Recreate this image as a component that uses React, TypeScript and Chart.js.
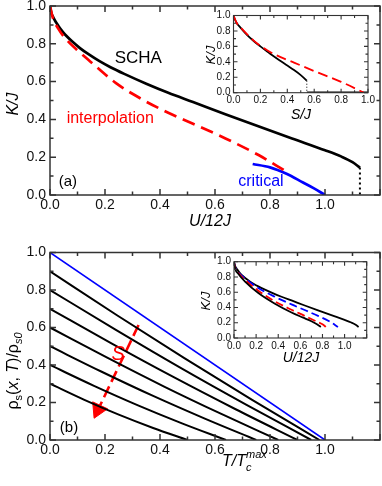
import { useEffect, useRef } from 'react';
import { Chart, registerables } from 'chart.js';
Chart.register(...registerables);

const FONT = '"Liberation Sans", Arial, Helvetica, sans-serif';
const RED = '#ff0000';
const BLUE = '#0000ff';
const BLACK = '#000000';
const FRAME = '#333333';

// ---------- panel (a) main: K/J vs U/12J ----------
const schaU = [0, 0.005, 0.012, 0.02, 0.03, 0.045, 0.06, 0.08, 0.11, 0.14, 0.18, 0.22, 0.27, 0.35, 0.43, 0.52, 0.64, 0.76, 0.88, 1.0, 1.06, 1.1, 1.127];
const schaK = [1.0, 0.962, 0.94, 0.918, 0.896, 0.866, 0.841, 0.813, 0.776, 0.745, 0.708, 0.676, 0.641, 0.589, 0.541, 0.492, 0.426, 0.362, 0.299, 0.237, 0.203, 0.174, 0.145];
const interpU = [0, 0.01, 0.03, 0.06, 0.1, 0.145, 0.24, 0.33, 0.43, 0.52, 0.64, 0.76, 0.855];
const interpK = [1.0, 0.94, 0.88, 0.822, 0.765, 0.708, 0.592, 0.51, 0.435, 0.377, 0.298, 0.21, 0.128];
const criticalU = [0.737, 0.8, 0.86, 0.92, 0.96, 1.0];
const criticalK = [0.164, 0.146, 0.112, 0.066, 0.035, 0.0];
const schaEndU = [1.127, 1.127];
const schaEndK = [0.145, 0.0];

// ---------- panel (a) inset: K/J vs S/J ----------
const insetS = [0, 0.01, 0.025, 0.05, 0.1, 0.15, 0.2, 0.275, 0.35, 0.4, 0.45, 0.5, 0.525, 0.545];
const insetK = [1.0, 0.95, 0.9, 0.846, 0.75, 0.67, 0.6, 0.5, 0.41, 0.352, 0.293, 0.228, 0.19, 0.155];
const insetRedS = [0, 0.025, 0.05, 0.15, 0.25, 0.35, 0.45, 0.6, 0.8, 0.97];
const insetRedK = [1.0, 0.9, 0.85, 0.675, 0.55, 0.46, 0.39, 0.28, 0.14, 0.0];
const insetDropS = [0.545, 0.545];
const insetDropK = [0.155, 0.0];
const insetFloorS = [0.545, 1.0];
const insetFloorK = [0.0, 0.0];

// ---------- panel (b) main: rho_s / rho_s0 vs T / Tc^max ----------
const blueT = [0, 1.0];
const blueRho = [1.0, 0.0];
const curveT1 = [0, 0.245, 0.49, 0.735, 0.98];
const curveRho1 = [0.9, 0.664, 0.435, 0.214, 0];
const curveT2 = [0, 0.238, 0.475, 0.713, 0.95];
const curveRho2 = [0.8, 0.589, 0.385, 0.189, 0];
const curveT3 = [0, 0.225, 0.45, 0.675, 0.9];
const curveRho3 = [0.7, 0.514, 0.335, 0.164, 0];
const curveT4 = [0, 0.208, 0.415, 0.623, 0.83];
const curveRho4 = [0.6, 0.439, 0.285, 0.139, 0];
const curveT5 = [0, 0.188, 0.375, 0.563, 0.75];
const curveRho5 = [0.5, 0.364, 0.235, 0.114, 0];
const curveT6 = [0, 0.16, 0.32, 0.48, 0.64];
const curveRho6 = [0.4, 0.289, 0.185, 0.089, 0];
const curveT7 = [0, 0.125, 0.25, 0.375, 0.5];
const curveRho7 = [0.3, 0.214, 0.135, 0.064, 0];
const arrowT = [0.322, 0.182];
const arrowRho = [0.613, 0.184];
const arrowHeadT = [0.175];
const arrowHeadRho = [0.162];

// ---------- panel (b) inset: K/J vs U/12J ----------
const inBlueU = [0, 0.01, 0.04, 0.1, 0.22, 0.37, 0.52, 0.65, 0.76, 0.86, 0.94];
const inBlueK = [1.0, 0.93, 0.86, 0.78, 0.655, 0.54, 0.44, 0.36, 0.29, 0.22, 0.145];
const inRedU = [0, 0.01, 0.04, 0.1, 0.22, 0.37, 0.52, 0.64, 0.74, 0.8, 0.835];
const inRedK = [1.0, 0.92, 0.85, 0.76, 0.62, 0.48, 0.37, 0.29, 0.22, 0.18, 0.14];
const inBlackU = [0, 0.01, 0.04, 0.1, 0.22, 0.37, 0.52, 0.62, 0.7, 0.75, 0.785];
const inBlackK = [1.0, 0.91, 0.84, 0.74, 0.59, 0.45, 0.335, 0.27, 0.22, 0.18, 0.145];

const tickStep = 0.2;

function pts(xs: number[], ys: number[]) {
  return xs.map((x, i) => ({ x, y: ys[i] }));
}

function line(xs: number[], ys: number[], color: string, width: number, dash: number[] = [], extra: any = {}) {
  return {
    data: pts(xs, ys),
    showLine: true,
    borderColor: color,
    backgroundColor: color,
    borderWidth: width,
    borderDash: dash,
    pointRadius: 0,
    cubicInterpolationMode: 'monotone',
    fill: false,
    ...extra,
  };
}

type Seg = { t: string; f: string; dy?: number; noAdv?: boolean };
type Txt = { segs: Seg[]; x: number; y: number; data?: boolean; rot?: number; align?: 'center' | 'left'; color?: string; cy?: number; size?: number };

function drawRich(ctx: CanvasRenderingContext2D, t: Txt, x: number, y: number) {
  ctx.save();
  ctx.translate(x, y);
  ctx.rotate(t.rot ?? 0);
  ctx.textBaseline = 'alphabetic';
  ctx.textAlign = 'left';
  ctx.fillStyle = t.color ?? BLACK;
  const widths = t.segs.map((s) => {
    ctx.font = s.f;
    return ctx.measureText(s.t).width;
  });
  let total = 0;
  t.segs.forEach((s, i) => {
    if (!s.noAdv) total += widths[i];
  });
  let cx = (t.align ?? 'center') === 'center' ? -total / 2 : 0;
  const base = (t.cy ?? 0.35) * (t.size ?? 14);
  t.segs.forEach((s, i) => {
    ctx.font = s.f;
    ctx.fillText(s.t, cx, base + (s.dy ?? 0));
    if (!s.noAdv) cx += widths[i];
  });
  ctx.restore();
}

interface FrameCfg {
  ox: number;
  oy: number;
  major: number;
  minor: number;
  lw: number;
  texts: Txt[];
}

function makeFramePlugin(cfg: FrameCfg) {
  return {
    id: 'frame',
    afterDraw(chart: any) {
      const ctx = chart.ctx as CanvasRenderingContext2D;
      const { left, right, top, bottom } = chart.chartArea;
      const xs = chart.scales.x;
      const ys = chart.scales.y;
      ctx.save();
      ctx.strokeStyle = FRAME;
      ctx.lineWidth = cfg.lw;
      ctx.beginPath();
      const xv: number[] = xs.ticks.map((tk: any) => tk.value);
      const yv: number[] = ys.ticks.map((tk: any) => tk.value);
      const withMinor = (vals: number[]) => {
        const out: { v: number; major: boolean }[] = [];
        vals.forEach((v, i) => {
          out.push({ v, major: true });
          if (i < vals.length - 1) out.push({ v: (v + vals[i + 1]) / 2, major: false });
        });
        return out;
      };
      withMinor(xv).forEach(({ v, major }) => {
        const px = xs.getPixelForValue(v);
        const len = major ? cfg.major : cfg.minor;
        ctx.moveTo(px, bottom);
        ctx.lineTo(px, bottom - len);
        ctx.moveTo(px, top);
        ctx.lineTo(px, top + len);
      });
      withMinor(yv).forEach(({ v, major }) => {
        const py = ys.getPixelForValue(v);
        const len = major ? cfg.major : cfg.minor;
        ctx.moveTo(left, py);
        ctx.lineTo(left + len, py);
        ctx.moveTo(right, py);
        ctx.lineTo(right - len, py);
      });
      ctx.stroke();
      ctx.strokeRect(left, top, right - left, bottom - top);
      cfg.texts.forEach((t) => {
        let x = t.x;
        let y = t.y;
        if (t.data) {
          x = xs.getPixelForValue(t.x);
          y = ys.getPixelForValue(t.y);
        } else {
          x -= cfg.ox;
          y -= cfg.oy;
        }
        drawRich(ctx, t, x, y);
      });
      ctx.restore();
    },
  };
}

function axis(min: number, max: number, labelMax: number, size: number, pad: number, fit: number, isX: boolean) {
  return {
    type: 'linear',
    min,
    max,
    grid: { display: false, drawTicks: false },
    border: { display: false },
    ticks: {
      stepSize: tickStep,
      autoSkip: false,
      maxRotation: 0,
      padding: pad,
      color: '#111111',
      font: { family: FONT, size },
      callback: (v: any) => (Number(v) > labelMax + 1e-6 ? '' : Number(v).toFixed(1)),
    },
    afterFit: (s: any) => {
      if (isX) s.height = fit;
      else s.width = fit;
    },
  };
}

function baseConfig(datasets: any[], scales: any, padTop: number, padRight: number, plugin: any) {
  return {
    type: 'scatter',
    data: { datasets },
    options: {
      responsive: false,
      maintainAspectRatio: false,
      animation: false,
      layout: { padding: { left: 0, top: padTop, right: padRight, bottom: 0 } },
      plugins: { legend: { display: false }, tooltip: { enabled: false } },
      scales,
      events: [],
    },
    plugins: [plugin],
  };
}

const it = (n: number) => `italic ${n}px ${FONT}`;
const rg = (n: number) => `${n}px ${FONT}`;

// --------- builders ---------
const buildA = () =>
  baseConfig(
    [
      line(interpU, interpK, RED, 2.7, [13, 7]),
      line(criticalU, criticalK, BLUE, 2.7),
      line(schaU, schaK, BLACK, 2.7),
      line(schaEndU, schaEndK, BLACK, 2, [2, 3], { cubicInterpolationMode: 'default' }),
    ],
    { x: axis(0, 1.2, 1.0, 14, 2, 45, true), y: axis(0, 1.0, 1.0, 14, 4, 60, false) },
    16,
    12,
    makeFramePlugin({
      ox: -10,
      oy: -10,
      major: 6,
      minor: 3.5,
      lw: 1.5,
      texts: [
        { segs: [{ t: 'SCHA', f: rg(17) }], x: 0.321, y: 0.732, data: true, size: 17, cy: 0.36 },
        { segs: [{ t: 'interpolation', f: rg(16) }], x: 0.219, y: 0.402, data: true, size: 16, color: RED, cy: 0.27 },
        { segs: [{ t: 'critical', f: rg(16) }], x: 0.767, y: 0.07, data: true, size: 16, color: BLUE, cy: 0.27 },
        { segs: [{ t: '(a)', f: rg(15) }], x: 0.065, y: 0.074, data: true, size: 15, cy: 0.3 },
        { segs: [{ t: 'U/12J', f: it(16) }], x: 210, y: 220, size: 16 },
        { segs: [{ t: 'K/J', f: it(16) }], x: 12.5, y: 104, size: 16, rot: -Math.PI / 2 },
      ],
    })
  );

const buildB = () =>
  baseConfig(
    [
      line(insetRedS, insetRedK, RED, 1.8, [10, 5]),
      line(insetS, insetK, BLACK, 1.8),
      line(insetDropS, insetDropK, BLACK, 1, [1, 2], { cubicInterpolationMode: 'default' }),
      line(insetFloorS, insetFloorK, BLACK, 2.2, [], { cubicInterpolationMode: 'default' }),
    ],
    { x: axis(0, 1.0, 1.0, 10, 2, 32.3, true), y: axis(0, 1.0, 1.0, 10, 3, 39.5, false) },
    15.5,
    16,
    makeFramePlugin({
      ox: 194,
      oy: 0,
      major: 4,
      minor: 2.5,
      lw: 1.1,
      texts: [
        { segs: [{ t: 'S/J', f: it(14) }], x: 301, y: 114, size: 14 },
        { segs: [{ t: 'K/J', f: it(13) }], x: 210, y: 55, size: 13, rot: -Math.PI / 2 },
      ],
    })
  );

const buildC = () =>
  baseConfig(
    [
      line(blueT, blueRho, BLUE, 1.6, [], { cubicInterpolationMode: 'default' }),
      line(curveT1, curveRho1, BLACK, 2),
      line(curveT2, curveRho2, BLACK, 2),
      line(curveT3, curveRho3, BLACK, 2),
      line(curveT4, curveRho4, BLACK, 2),
      line(curveT5, curveRho5, BLACK, 2),
      line(curveT6, curveRho6, BLACK, 2),
      line(curveT7, curveRho7, BLACK, 2),
      line(arrowT, arrowRho, RED, 2.6, [12, 5], { cubicInterpolationMode: 'default' }),
      {
        data: pts(arrowHeadT, arrowHeadRho),
        showLine: false,
        pointStyle: 'triangle',
        pointRadius: 9.5,
        pointRotation: 205,
        pointBackgroundColor: RED,
        pointBorderColor: RED,
        pointBorderWidth: 1,
      },
    ],
    { x: axis(0, 1.2, 1.0, 14, 2, 46, true), y: axis(0, 1.0, 1.0, 14, 4, 60, false) },
    12.5,
    12,
    makeFramePlugin({
      ox: -10,
      oy: 240,
      major: 6,
      minor: 3.5,
      lw: 1.5,
      texts: [
        { segs: [{ t: 'S', f: it(20) }], x: 0.248, y: 0.466, data: true, size: 20, color: RED, cy: 0.36 },
        { segs: [{ t: '(b)', f: rg(15) }], x: 0.069, y: 0.069, data: true, size: 15, cy: 0.3 },
        {
          segs: [
            { t: 'T/T', f: it(16) },
            { t: 'max', f: it(11), dy: -8, noAdv: true },
            { t: 'c', f: it(11), dy: 5 },
          ],
          x: 222,
          y: 466,
          align: 'left',
          size: 16,
          cy: 0,
        },
        {
          segs: [
            { t: 'ρ', f: rg(16) },
            { t: 's', f: rg(11), dy: 4 },
            { t: '(', f: rg(16) },
            { t: 'x', f: it(16) },
            { t: ', ', f: rg(16) },
            { t: 'T', f: it(16) },
            { t: ')/ρ', f: rg(16) },
            { t: 's0', f: it(11), dy: 4 },
          ],
          x: 13,
          y: 371,
          size: 16,
          rot: -Math.PI / 2,
          cy: 0.3,
        },
      ],
    })
  );

const buildD = () =>
  baseConfig(
    [
      line(inBlackU, inBlackK, BLACK, 1.8),
      line(inRedU, inRedK, RED, 1.8, [8, 4]),
      line(inBlueU, inBlueK, BLUE, 1.8, [8, 4]),
      line(schaU, schaK, BLACK, 1.8),
    ],
    { x: axis(0, 1.2, 1.0, 10, 2, 38, true), y: axis(0, 1.0, 1.0, 10, 3, 40, false) },
    15.7,
    17.3,
    makeFramePlugin({
      ox: 194,
      oy: 246,
      major: 4,
      minor: 2.5,
      lw: 1.1,
      texts: [
        { segs: [{ t: 'U/12J', f: it(14) }], x: 301, y: 357.5, size: 14 },
        { segs: [{ t: 'K/J', f: it(13) }], x: 205, y: 301, size: 13, rot: -Math.PI / 2 },
      ],
    })
  );

function Panel({ left, top, width, height, build }: { left: number; top: number; width: number; height: number; build: () => any }) {
  const ref = useRef<HTMLCanvasElement>(null);
  useEffect(() => {
    const chart = new Chart(ref.current as HTMLCanvasElement, build());
    return () => chart.destroy();
  }, []);
  return <canvas ref={ref} width={width} height={height} style={{ position: 'absolute', left, top, width, height }} />;
}

export default function App() {
  return (
    <div style={{ position: 'absolute', left: 0, top: 0, width: 382, height: 486, background: '#ffffff', overflow: 'hidden' }}>
      <Panel left={-10} top={-10} width={402} height={250} build={buildA} />
      <Panel left={194} top={0} width={190} height={125} build={buildB} />
      <Panel left={-10} top={240} width={402} height={246} build={buildC} />
      <Panel left={194} top={246} width={190} height={130} build={buildD} />
    </div>
  );
}
